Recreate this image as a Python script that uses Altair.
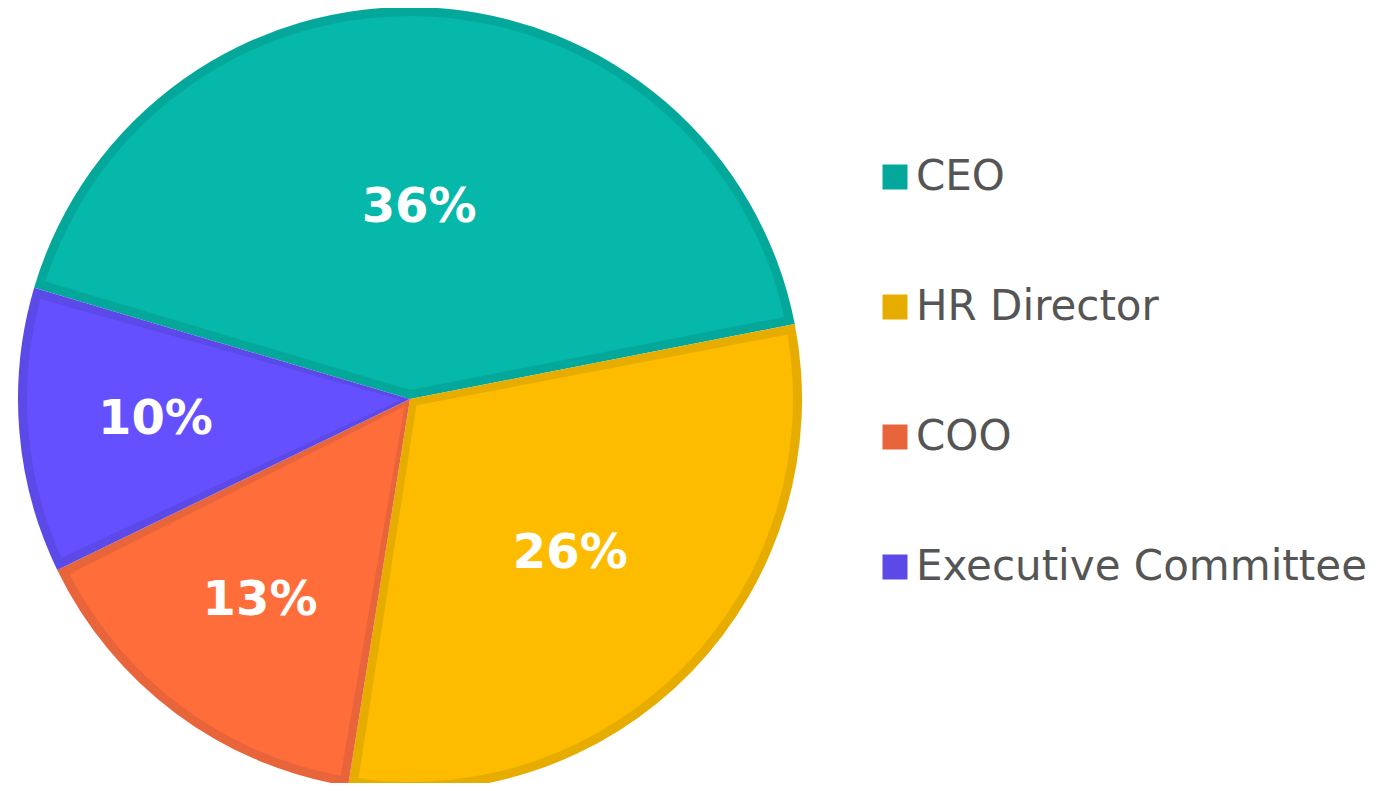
import math
import altair as alt
import pandas as pd

# ---- data ----
roles = ["CEO", "HR Director", "COO", "Executive Committee"]
values = [36, 26, 13, 10]
labels = ["36%", "26%", "13%", "10%"]

# ---- styling ----
fill_colors = ["#05B8AA", "#FDBC00", "#FF6D3A", "#6450FF"]
edge_colors = ["#04A89B", "#E6AC00", "#E8643A", "#5B4AE8"]

df = pd.DataFrame({
    "role": roles,
    "value": values,
    "label": labels,
    "idx": list(range(len(roles))),
})

R = 392
band = 9
start = math.radians(-73.5)
CX, CY = 402, 391  # pie centre inside the view

theta_scale = alt.Scale(range=[start, start + 2 * math.pi])

base = alt.Chart(df).encode(
    order=alt.Order("idx:Q", sort="ascending"),
    x=alt.value(CX),
    y=alt.value(CY),
)

arc_theta = alt.Theta("value:Q", stack=True, scale=theta_scale)

dark = base.mark_arc(outerRadius=R).encode(
    theta=arc_theta,
    color=alt.Color(
        "role:N",
        sort=roles,
        scale=alt.Scale(domain=roles, range=edge_colors),
        legend=alt.Legend(
            title=None,
            orient="none",
            legendX=866,
            legendY=148,
            symbolType="square",
            symbolSize=625,
            symbolStrokeWidth=0,
            labelFont="DejaVu Sans",
            labelFontSize=42,
            labelColor="#555555",
            labelOffset=0,
            rowPadding=88,
            padding=0,
            labelLimit=0,
        ),
    ),
)

light = base.mark_arc(
    outerRadius=R - band, innerRadius=band, padAngle=2 * band / (R - band)
).encode(
    theta=arc_theta,
    fill=alt.Fill(
        "role:N",
        sort=roles,
        scale=alt.Scale(domain=roles, range=fill_colors),
        legend=None,
    ),
)

# labels at the centroid of each slice (mid angle, centroid radius)
text = base.transform_joinaggregate(
    total="sum(value)"
).transform_window(
    cum="sum(value)", sort=[alt.SortField("idx", order="ascending")], frame=[None, 0]
).transform_calculate(
    mid="datum.cum - datum.value / 2",
    half="PI * datum.value / datum.total",
    labelR=f"2 * {R} * sin(datum.half) / (3 * datum.half)",
).mark_text(
    font="DejaVu Sans",
    fontWeight="bold",
    fontSize=48,
    color="white",
    align="center",
    baseline="middle",
).encode(
    theta=alt.Theta("mid:Q", stack=False, scale=theta_scale),
    radius=alt.Radius("labelR:Q", scale=None),
    text="label:N",
)

chart = alt.layer(dark, light, text).properties(
    width=1361,
    height=775,
    padding=0,
    autosize=alt.AutoSizeParams(type="none"),
).configure_view(stroke=None)

chart.save("out.html", embed_options={"renderer": "svg", "actions": False})
